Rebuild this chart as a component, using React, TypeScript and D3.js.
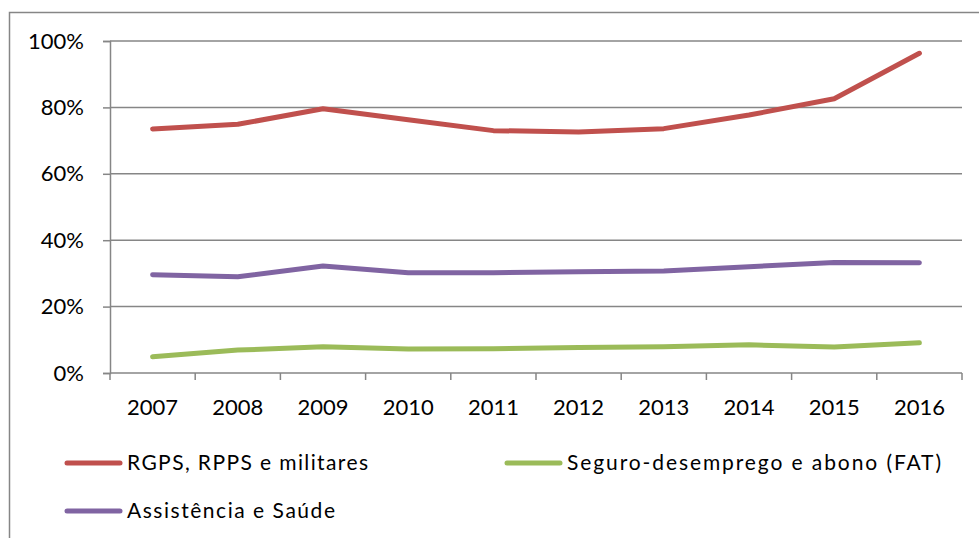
import React, { useRef, useEffect } from 'react';
import * as d3 from 'd3';

// Data (share, %)
const years = ['2007', '2008', '2009', '2010', '2011', '2012', '2013', '2014', '2015', '2016'];
const rgps = [73.5, 74.9, 79.6, 76.3, 73.0, 72.6, 73.6, 77.7, 82.6, 96.3];
const fat = [4.9, 6.9, 7.9, 7.2, 7.3, 7.7, 7.9, 8.5, 7.8, 9.1];
const assist = [29.6, 29.0, 32.2, 30.2, 30.2, 30.5, 30.7, 32.0, 33.3, 33.2];
const yTicks = [0, 20, 40, 60, 80, 100];

const seriesNames = ['RGPS, RPPS e militares', 'Seguro-desemprego e abono (FAT)', 'Assistência e Saúde'];
const seriesColors = ['#C0504D', '#9BBB59', '#8064A2'];

const App: React.FC = () => {
  const ref = useRef<SVGSVGElement>(null);

  useEffect(() => {
    const svg = d3.select(ref.current);
    svg.selectAll('*').remove();

    const font = 'Lato, "Open Sans", sans-serif';
    const grey = '#868686';

    // outer chart border (only left and top visible, the rest is cropped)
    svg.append('path')
      .attr('d', 'M9.5,538 L9.5,12.5 L979,12.5')
      .attr('fill', 'none')
      .attr('stroke', grey)
      .attr('stroke-width', 1.5);

    const x = d3.scaleBand().domain(years).range([110, 962]);
    const y = d3.scaleLinear().domain([0, 100]).range([373, 41]);

    // gridlines + y ticks
    const yAxis = svg.append('g').attr('transform', 'translate(110,0)')
      .call(d3.axisLeft(y).tickValues(yTicks).tickSize(7).tickFormat(d => `${d}%`));
    yAxis.select('.domain').attr('stroke', grey).attr('stroke-width', 1.5);
    yAxis.selectAll('.tick line').attr('stroke', grey).attr('stroke-width', 1.5);
    yAxis.selectAll('.tick text')
      .attr('x', -26)
      .attr('font-family', font).attr('font-size', 22).attr('fill', '#000');

    svg.append('g').selectAll('line')
      .data(yTicks.filter(t => t > 0))
      .join('line')
      .attr('x1', 110).attr('x2', 962)
      .attr('y1', d => y(d)).attr('y2', d => y(d))
      .attr('stroke', grey).attr('stroke-width', 1.5);

    // x axis with ticks at band edges
    const xAxis = svg.append('g').attr('transform', 'translate(0,373)')
      .call(d3.axisBottom(x).tickSize(0).tickPadding(26));
    xAxis.select('.domain').remove();
    xAxis.selectAll('.tick text')
      .attr('font-family', font).attr('font-size', 22).attr('fill', '#000');
    svg.append('line').attr('x1', 110).attr('x2', 962).attr('y1', 373).attr('y2', 373)
      .attr('stroke', grey).attr('stroke-width', 1.5);
    const edges = years.map(d => x(d) as number).concat([962]);
    svg.append('g').selectAll('line').data(edges).join('line')
      .attr('x1', d => d).attr('x2', d => d).attr('y1', 373).attr('y2', 380)
      .attr('stroke', grey).attr('stroke-width', 1.5);

    // series lines
    const line = d3.line<number>()
      .x((_, i) => (x(years[i]) as number) + x.bandwidth() / 2)
      .y(d => y(d));

    [rgps, fat, assist].forEach((s, i) => {
      svg.append('path')
        .datum(s)
        .attr('fill', 'none')
        .attr('stroke', seriesColors[i])
        .attr('stroke-width', 5)
        .attr('stroke-linecap', 'round')
        .attr('stroke-linejoin', 'round')
        .attr('d', line);
    });

    // legend (text widths matched to the original's loose spacing)
    const legendPos = [[67, 463], [507, 463], [67, 511]];
    const legendWidths = [241, 374, 208];
    seriesNames.forEach((name, i) => {
      const [lx, ly] = legendPos[i];
      const g = svg.append('g').attr('transform', `translate(${lx},${ly})`);
      g.append('line').attr('x1', 0).attr('x2', 53).attr('y1', 0).attr('y2', 0)
        .attr('stroke', seriesColors[i]).attr('stroke-width', 5).attr('stroke-linecap', 'round');
      g.append('text').attr('x', 60).attr('y', 0).attr('dy', '0.35em')
        .attr('font-family', font).attr('font-size', 21).attr('fill', '#000')
        .attr('textLength', legendWidths[i]).attr('lengthAdjust', 'spacing')
        .text(name);
    });
  }, []);

  return (
    <svg ref={ref} width="979" height="538"
      style={{ position: 'absolute', left: 0, top: 0, background: '#fff' }}></svg>
  );
};

export default App;
